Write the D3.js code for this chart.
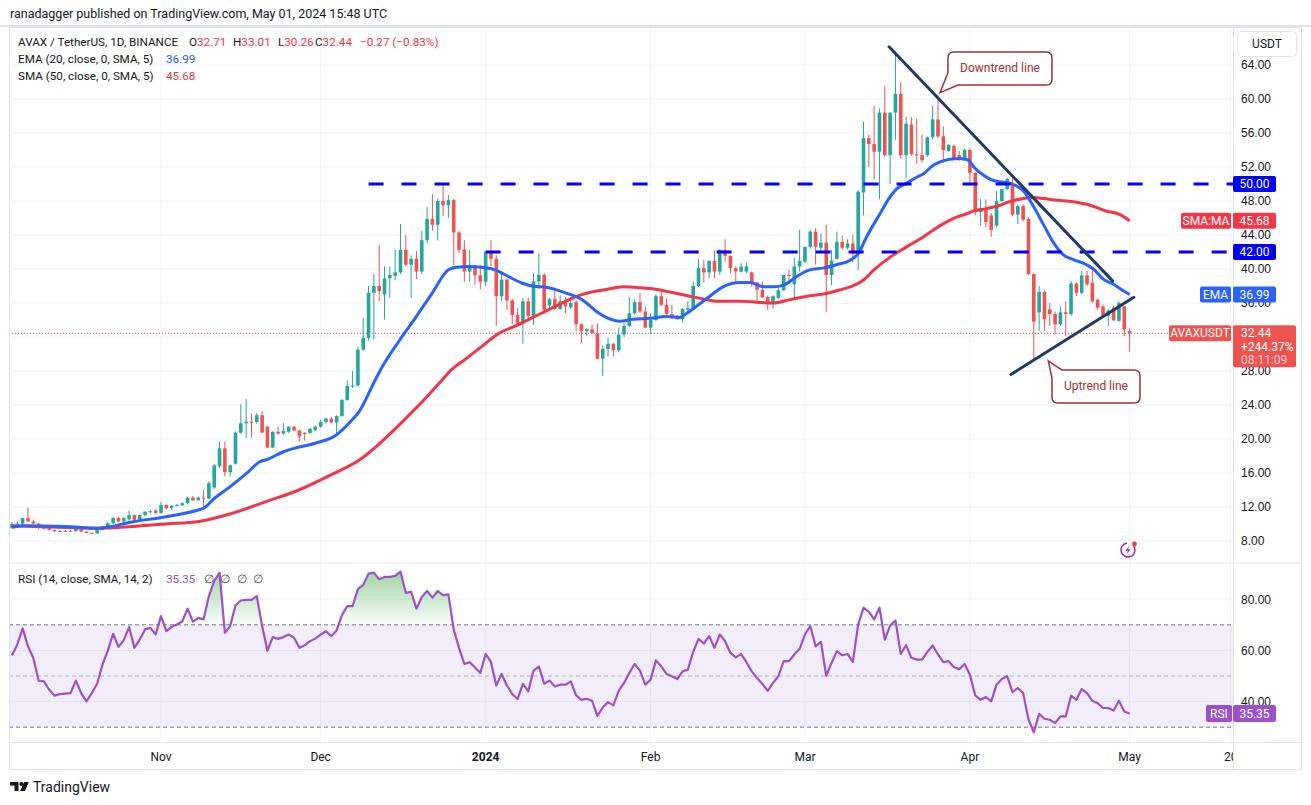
<!DOCTYPE html>
<html lang="en">
<head>
<meta charset="UTF-8">
<title>AVAX / TetherUS, 1D, BINANCE</title>
<script src="https://d3js.org/d3.v7.min.js"></script>
<style>
  html, body { margin: 0; padding: 0; background: #fff; }
  svg { display: block; font-family: Roboto, "Noto Sans", sans-serif; }
  .axis text { font-size: 12px; fill: #131722; }
  .grid { stroke: #f0f3fa; stroke-width: 1; }
  .frame { stroke: #e0e3eb; stroke-width: 1; fill: none; }
  .legend { font-size: 11.7px; fill: #131722; }
  .tag text { font-size: 12px; fill: #fff; }
</style>
</head>
<body>
<svg width="1311" height="805"></svg>
<script>
// ---- data ----
const firstDay = "2023-10-04";   // first daily candle

const opens = [
  9.55,10.0,10.05,10.7,10.3,10.05,9.55,9.5,9.3,9.15,
  9.18,9.2,9.15,9.45,9.1,8.95,8.9,9.3,9.7,10.1,
  10.7,10.3,10.55,11.05,10.5,11.05,11.45,11.6,11.3,12.25,
  11.85,12.15,12.2,12.45,13.1,12.8,13.1,13.0,14.3,16.8,
  18.9,16.1,17.1,20.75,21.85,22.05,22.0,22.8,21.45,19.0,
  20.85,20.65,20.85,21.45,21.0,20.7,20.7,21.05,21.45,22.0,
  22.4,21.95,22.7,24.6,26.25,26.3,30.5,31.9,37.2,38.0,
  37.0,38.9,39.2,39.6,42.25,40.5,41.2,39.7,43.4,45.9,
  45.2,48.0,47.5,48.1,44.3,42.3,39.7,40.2,39.25,38.5,
  42.0,41.2,36.8,38.75,36.3,34.6,33.6,36.2,34.5,38.55,
  39.3,35.7,36.45,35.3,36.0,35.5,36.1,33.5,32.7,32.9,
  32.45,29.45,30.6,31.2,30.45,32.3,33.3,34.8,36.1,35.0,
  33.1,34.0,36.8,35.8,34.7,34.4,34.1,35.2,35.4,38.0,
  40.1,39.6,40.95,39.7,42.25,41.55,40.1,39.7,39.7,39.6,
  38.4,37.55,36.7,36.0,36.6,37.5,39.3,38.2,40.3,40.85,
  42.6,44.4,42.5,43.1,39.3,41.2,43.2,42.5,43.0,41.8,
  49.0,55.4,54.7,53.8,58.4,53.4,58.4,60.6,53.4,57.0,
  53.5,53.4,53.4,55.5,57.6,55.6,53.9,54.5,53.4,52.9,
  54.0,51.3,46.7,47.1,46.3,45.1,48.0,49.4,50.0,46.4,
  47.4,45.9,39.4,34.9,37.3,35.25,34.7,33.5,34.9,34.7,
  38.3,37.2,39.25,38.4,36.4,35.6,34.5,35.45,33.9,35.6,
  32.71
];
const highs = [
  10.25,10.3,10.75,11.95,10.5,10.1,9.7,9.55,9.35,9.25,
  9.3,9.3,9.8,9.75,9.15,9.0,9.35,9.75,10.2,10.8,
  10.85,10.8,11.6,11.1,11.1,11.5,11.7,11.7,12.6,12.3,
  12.2,12.35,12.55,13.2,13.3,13.25,14.0,15.0,17.1,19.7,
  19.7,17.0,20.9,24.1,24.7,23.0,23.05,23.3,21.5,20.9,
  21.45,21.85,21.5,21.5,21.1,20.8,21.3,21.6,22.3,22.5,
  22.6,22.8,24.7,26.9,28.0,30.8,34.25,38.0,39.4,42.8,
  40.3,40.3,42.3,45.3,44.0,41.6,42.1,44.5,47.3,48.8,
  48.3,49.9,48.7,48.3,44.5,43.4,42.25,40.5,40.5,42.1,
  43.4,41.6,39.5,38.9,36.5,35.4,36.6,36.6,39.5,41.8,
  39.5,36.6,37.8,36.9,36.7,36.7,36.4,33.6,33.1,33.5,
  33.6,31.0,31.9,31.3,33.1,33.6,36.7,36.4,37.2,35.6,
  34.8,37.05,37.5,36.5,35.8,34.6,35.4,36.2,38.5,41.15,
  41.1,41.0,42.2,42.3,43.5,41.6,40.3,40.7,40.8,39.7,
  38.5,38.5,36.9,36.9,37.8,39.3,39.9,41.3,44.6,42.6,
  44.6,44.8,44.2,45.2,42.25,44.4,43.9,43.5,44.0,49.3,
  57.35,55.8,59.2,58.9,61.5,58.4,65.2,62.0,57.9,57.9,
  57.7,55.8,55.6,59.2,60.2,56.8,54.7,54.6,53.9,54.2,
  54.2,51.4,48.2,48.2,46.6,49.2,49.4,50.75,50.7,47.6,
  47.6,46.1,39.5,38.0,37.5,36.0,35.0,35.6,36.2,38.6,
  38.4,39.8,39.8,39.8,36.5,35.8,35.3,35.7,36.2,35.6,
  33.01
];
const lows = [
  9.45,9.9,10.0,10.25,9.95,9.4,9.4,9.25,9.05,9.05,
  9.1,9.1,9.1,9.05,8.9,8.8,8.85,9.25,9.6,10.0,
  10.2,10.2,10.4,10.4,10.45,10.95,11.2,11.2,11.2,11.7,
  11.7,12.05,12.15,12.3,12.7,12.75,12.0,12.9,14.1,16.6,
  15.6,15.6,17.0,20.6,20.1,20.2,21.8,20.7,18.9,18.95,
  20.5,20.5,20.7,20.9,19.7,19.8,20.6,20.95,21.3,21.8,
  21.85,20.7,22.6,24.5,26.0,26.2,30.4,31.6,31.7,36.2,
  34.05,36.6,38.7,39.4,40.3,36.6,38.8,39.4,43.0,44.5,
  43.35,46.2,46.0,40.5,41.9,38.5,38.5,38.15,37.6,38.0,
  40.3,33.3,36.2,35.2,33.5,33.5,31.2,34.1,33.4,37.65,
  34.8,35.2,35.2,35.2,34.8,35.3,32.7,31.3,32.1,32.4,
  29.4,27.4,29.7,29.7,30.2,32.0,33.2,34.6,34.8,33.05,
  32.35,33.85,35.6,34.6,34.1,34.0,33.7,35.1,35.2,37.9,
  38.4,38.9,38.9,39.3,40.9,39.5,38.4,39.6,39.5,37.9,
  36.1,36.6,35.2,35.3,36.45,37.4,38.3,36.4,39.7,40.7,
  42.4,40.5,41.85,34.9,38.1,41.1,42.3,42.3,40.8,39.9,
  46.3,52.0,50.5,48.2,53.2,50.0,55.2,53.0,50.7,53.3,
  52.4,52.5,53.2,55.3,55.4,52.5,53.8,52.8,52.7,52.8,
  50.1,46.3,45.1,44.9,43.8,44.9,47.9,49.3,46.2,45.3,
  45.6,39.3,29.4,32.7,32.7,33.3,32.3,33.3,32.1,34.5,
  36.8,37.0,38.0,36.0,35.2,34.4,33.3,33.9,33.8,32.1,
  30.26
];
const closes = [
  10.0,10.05,10.7,10.3,10.05,9.55,9.5,9.3,9.15,9.18,
  9.2,9.15,9.6,9.1,8.95,8.9,9.3,9.7,10.1,10.7,
  10.3,10.7,11.05,10.5,11.05,11.45,11.5,11.3,12.25,11.85,
  12.15,12.25,12.45,13.1,12.8,13.1,13.0,14.8,16.9,18.9,
  16.1,16.9,20.75,21.85,22.05,22.0,22.8,20.75,19.0,20.85,
  20.65,20.95,21.45,21.0,20.3,20.6,21.2,21.45,22.0,22.4,
  21.95,22.7,24.6,26.25,26.3,30.5,31.9,37.2,38.0,37.4,
  38.9,39.3,39.6,42.25,40.5,41.2,39.7,43.4,45.9,45.2,
  48.0,47.5,48.1,44.3,42.25,39.7,40.2,39.25,38.5,42.0,
  41.2,36.8,38.75,36.3,34.6,33.6,36.2,34.5,38.55,39.3,
  35.2,36.45,35.3,36.2,35.6,36.0,33.5,32.7,32.9,32.45,
  29.45,30.6,31.2,30.45,32.3,33.3,34.8,36.1,35.0,33.1,
  34.0,36.8,35.8,34.7,34.4,34.1,35.3,35.4,38.0,40.1,
  39.6,40.95,39.7,42.25,41.55,40.1,39.7,40.3,40.3,38.4,
  37.55,36.65,36.0,36.8,37.5,39.3,39.2,40.3,40.95,42.6,
  44.4,42.6,43.1,39.3,41.0,43.2,42.5,43.0,41.8,49.1,
  55.4,54.7,53.8,58.4,53.4,58.4,60.6,53.4,57.1,53.5,
  53.4,52.8,55.5,57.6,55.6,54.0,54.6,52.9,52.9,54.0,
  51.3,46.7,47.1,45.5,44.6,48.0,49.4,50.6,46.4,47.4,
  45.8,39.4,33.8,37.3,34.1,34.7,33.5,34.9,34.7,38.3,
  37.2,39.25,38.2,36.2,35.45,34.5,35.1,33.95,36.0,32.9,
  32.44
];

// EMA 20 and SMA 50 read at day offsets from firstDay
const emaDay = [0,2,10,16,23,29,35,36,38,41,44.5,46.5,48,51,53,57,61,63.3,65.2,68.3,69.5,72.7,75.8,79,82,83.5,86,88.3,90.8,93.3,95.8,97.7,100.8,104,107.1,110.3,112.4,114.2,116.7,119.9,123,125.5,126.8,128.6,131.1,133.6,136.8,138.7,141.2,143.1,145,147.4,149.9,152.4,154.9,157.4,159,160.6,163.1,165,166.2,168.1,170,171.3,173.1,174.4,176.2,178.1,179.7,180.6,182.5,184,186.3,188.1,190,191.9,193.8,195.7,197.5,199.4,201.3,203.2,205.1,207,208.9,210];
const emaVal = [9.6,9.8,9.7,9.5,10.3,10.86,11.65,11.85,13.0,14.4,16.2,17.3,17.6,18.5,18.9,19.5,20.5,21.85,23.2,27.0,28.4,31.5,34.25,37.2,39.9,40.2,40.3,40.2,39.9,39.1,38.35,38.0,37.8,37.2,36.4,34.8,34.1,33.85,34.1,34.2,34.4,34.3,34.8,35.6,36.8,37.9,38.4,38.4,37.9,37.9,38.1,39.1,39.9,40.1,40.5,41.0,41.8,43.8,46.5,48.5,49.4,50.1,50.8,51.2,52.2,52.6,52.9,53.0,52.8,52.1,51.05,50.5,50.2,49.96,49.2,47.4,45.25,43.1,41.7,41.1,40.7,40.0,38.8,38.2,37.4,36.99];
const smaDay = [0,10,16.4,22.6,28.9,35.1,41.4,47.6,53.9,60,65.2,73,80.9,82,85.2,88.3,91.4,94.6,97.7,100.8,104,107.1,111.7,114.9,118,121.2,124.3,127.4,130.5,132.4,136.8,139.9,143.1,146.2,149.4,152.5,155.6,157.5,160,161.8,165,168.1,171.3,174.4,177.5,179.4,180.6,183.1,185.7,186.9,190,191.9,193.8,196.3,199.4,202.6,205.7,208.2,210];
const smaVal = [9.8,9.6,9.5,9.7,10.0,10.3,11.26,12.6,14.0,15.8,17.5,21.8,27.0,27.8,29.4,30.9,32.4,33.3,34.25,35.2,36.2,37.0,37.6,37.9,37.8,37.6,37.2,36.8,36.4,36.2,36.2,36.1,36.0,36.4,36.8,37.05,37.55,37.9,38.7,39.8,41.4,42.6,43.8,45.1,46.1,46.5,46.8,47.1,47.5,47.8,48.3,48.4,48.3,48.1,47.9,47.5,46.8,46.4,45.68];

// RSI 14, one value per candle
const rsi = [
  58,62.3,68.6,61.6,57.1,48.2,47.9,44.6,42.3,42.9,
  43.1,43.3,48.2,43.3,40.1,43.3,47.0,54.4,59.9,66.5,
  61.4,63.9,69.1,61.0,64.2,68.2,68.8,66.2,73.4,67.5,
  69.2,70.1,71.4,76.3,71.2,72.7,72.1,81.2,87.1,90.4,
  66.9,69.5,77.6,79.5,79.7,79.7,81.2,69.5,59.9,65.2,
  64.5,65.2,66.2,64.9,61.0,62.0,63.6,64.6,66.2,67.5,
  65.6,67.8,73.8,77.3,77.3,83.9,85.6,90.0,90.4,87.8,
  88.7,88.7,89.1,90.8,82.5,82.9,76.3,80.8,83.2,80.6,
  83.2,81.6,81.9,68.2,61.0,54.7,55.4,53.3,51.2,58.6,
  55.5,46.3,50.8,46.3,42.9,41.0,46.9,44.0,52.1,53.7,
  47.0,48.2,45.9,46.6,46.6,47.9,42.4,40.7,41.1,40.3,
  34.4,37.7,39.8,38.5,44.2,47.3,51.2,54.7,52.1,46.6,
  48.6,56.1,53.8,50.8,49.9,48.8,51.8,52.5,59.4,64.5,
  62.7,65.6,61.0,66.2,63.6,59.0,57.3,58.6,55.4,51.8,
  49.2,46.9,44.2,47.3,49.9,55.8,55.8,58.4,60.6,66.2,
  69.5,61.6,63.3,50.1,55.1,59.7,58.1,58.6,55.5,70.1,
  76.7,75.1,72.1,76.7,64.2,69.7,71.7,58.6,62.0,57.1,
  56.4,56.4,59.4,61.9,58.4,55.4,55.8,53.4,52.7,54.7,
  50.5,42.4,40.7,41.8,40.1,46.6,48.8,49.9,43.7,45.3,
  43.3,33.1,28.0,35.2,33.3,32.9,31.6,34.2,34.2,42.3,
  40.7,44.9,43.3,40.3,39.4,37.5,37.5,36.5,40.3,36.1,
  35.35
];

// horizontal levels and trend lines drawn on the chart
const levelPrice = [50, 42];
const levelFrom = ["2023-12-10", "2024-01-01"];
const downtrend = [[164.8, 66.15], [206.8, 38.6]];   // [day offset, price]
const uptrend = [[187.7, 27.6], [210.8, 36.67]];

// axis ticks (32.00 sits under the last-price tag)
const priceTicks = [8, 12, 16, 20, 24, 28, 32, 36, 40, 44, 48, 52, 56, 60, 64, 68];
const priceLabels = [8, 12, 16, 20, 24, 28, 36, 40, 44, 48, 52, 56, 60, 64];
const rsiTicks = [40, 60, 80];
const timeTicks = ["2023-11-01", "2023-12-01", "2024-01-01", "2024-02-01", "2024-03-01", "2024-04-01", "2024-05-01", "2024-05-20"];
const timeLabels = ["Nov", "Dec", "2024", "Feb", "Mar", "Apr", "May", "20"];

// ---- layout ----
const L = 9, R = 1233, TOP = 27, SPLIT = 563, BOTTOM = 742, FR = 1301, FB = 769;
const UP = "#26a69a", DOWN = "#ef5350", EMA_C = "#2962ff", SMA_C = "#f23645",
      LEVEL_C = "#0000ff", TREND_C = "#1f3a68", RSI_C = "#9b51c9", CALLOUT_C = "#a3302f";

const DAY = 864e5;
const t0 = Date.parse(firstDay + "T00:00:00Z");
const x = d3.scaleUtc()
  .domain([new Date(t0 - 0.56 * DAY), new Date(t0 + 229.43 * DAY)])
  .range([L, R]);
const xi = i => x(new Date(t0 + i * DAY));
const xd = s => x(new Date(s + "T00:00:00Z"));

const y = d3.scaleLinear().domain([8, 64]).range([541, 65]);
const yR = d3.scaleLinear().domain([30, 80]).range([727.2, 599.2]);

const svg = d3.select("svg");
const defs = svg.append("defs");
defs.append("clipPath").attr("id", "clipPrice")
  .append("rect").attr("x", L).attr("y", TOP).attr("width", R - L).attr("height", SPLIT - TOP);
defs.append("clipPath").attr("id", "clipRsi")
  .append("rect").attr("x", L).attr("y", SPLIT).attr("width", R - L).attr("height", BOTTOM - SPLIT);
defs.append("clipPath").attr("id", "clipTime")
  .append("rect").attr("x", L).attr("y", BOTTOM).attr("width", R - L).attr("height", FB - BOTTOM);
const grad = defs.append("linearGradient").attr("id", "obFill")
  .attr("gradientUnits", "userSpaceOnUse")
  .attr("x1", 0).attr("x2", 0).attr("y1", yR(92)).attr("y2", yR(70));
grad.append("stop").attr("offset", 0).attr("stop-color", "#4caf50").attr("stop-opacity", 0.55);
grad.append("stop").attr("offset", 1).attr("stop-color", "#4caf50").attr("stop-opacity", 0.03);

svg.append("rect").attr("width", 1311).attr("height", 805).attr("fill", "#fff");

// ---- grid ----
const gGrid = svg.append("g");
gGrid.selectAll(".hp").data(priceTicks).join("line").attr("class", "grid")
  .attr("x1", L).attr("x2", R).attr("y1", d => y(d)).attr("y2", d => y(d));
gGrid.selectAll(".hr").data(rsiTicks).join("line").attr("class", "grid")
  .attr("x1", L).attr("x2", R).attr("y1", d => yR(d)).attr("y2", d => yR(d));
gGrid.selectAll(".v").data(timeTicks).join("line").attr("class", "grid")
  .attr("x1", d => xd(d)).attr("x2", d => xd(d)).attr("y1", TOP).attr("y2", BOTTOM);

// ---- RSI pane ----
const gR = svg.append("g").attr("clip-path", "url(#clipRsi)");
gR.append("rect").attr("x", L).attr("width", R - L)
  .attr("y", yR(70)).attr("height", yR(30) - yR(70))
  .attr("fill", "rgba(126,87,194,0.1)");
[[70, "#787b86"], [50, "#b2b5be"], [30, "#787b86"]].forEach(([v, c]) => {
  gR.append("line").attr("x1", L).attr("x2", R).attr("y1", yR(v)).attr("y2", yR(v))
    .attr("stroke", c).attr("stroke-width", 1).attr("stroke-dasharray", "4,3");
});
gR.append("path").datum(rsi)
  .attr("fill", "url(#obFill)")
  .attr("d", d3.area().x((d, i) => xi(i)).y0(yR(70)).y1(d => yR(Math.max(d, 70))));
gR.append("path").datum(rsi)
  .attr("fill", "none").attr("stroke", RSI_C).attr("stroke-width", 2.2)
  .attr("stroke-linejoin", "round")
  .attr("d", d3.line().x((d, i) => xi(i)).y(d => yR(d)));

// ---- price pane ----
const gP = svg.append("g").attr("clip-path", "url(#clipPrice)");
const lastClose = closes[closes.length - 1];

// last price dotted line
gP.append("line").attr("x1", L).attr("x2", 1169)
  .attr("y1", y(lastClose)).attr("y2", y(lastClose))
  .attr("stroke", SMA_C).attr("stroke-width", 1).attr("stroke-dasharray", "1,2");

// candles
const candles = closes.map((c, i) => ({ i, o: opens[i], h: highs[i], l: lows[i], c }));
const bw = 3.6;
gP.selectAll(".wick").data(candles).join("line")
  .attr("x1", d => xi(d.i)).attr("x2", d => xi(d.i))
  .attr("y1", d => y(d.h)).attr("y2", d => y(d.l))
  .attr("stroke", d => d.c >= d.o ? UP : DOWN).attr("stroke-width", 1);
gP.selectAll(".body").data(candles).join("rect")
  .attr("x", d => xi(d.i) - bw / 2).attr("width", bw)
  .attr("y", d => y(Math.max(d.o, d.c)))
  .attr("height", d => Math.max(1, Math.abs(y(d.o) - y(d.c))))
  .attr("fill", d => d.c >= d.o ? UP : DOWN);

// moving averages
const maLine = d3.line().curve(d3.curveMonotoneX);
gP.append("path")
  .attr("d", maLine(smaDay.map((d, k) => [xi(d), y(smaVal[k])])))
  .attr("fill", "none").attr("stroke", SMA_C).attr("stroke-width", 3);
gP.append("path")
  .attr("d", maLine(emaDay.map((d, k) => [xi(d), y(emaVal[k])])))
  .attr("fill", "none").attr("stroke", EMA_C).attr("stroke-width", 3);

// horizontal levels
levelPrice.forEach((p, k) => {
  gP.append("line").attr("x1", xd(levelFrom[k])).attr("x2", R)
    .attr("y1", y(p)).attr("y2", y(p))
    .attr("stroke", LEVEL_C).attr("stroke-width", 3).attr("stroke-dasharray", "15,18");
});

// trend lines
[downtrend, uptrend].forEach(t => {
  gP.append("line")
    .attr("x1", xi(t[0][0])).attr("y1", y(t[0][1]))
    .attr("x2", xi(t[1][0])).attr("y2", y(t[1][1]))
    .attr("stroke", TREND_C).attr("stroke-width", 3).attr("stroke-linecap", "round");
});

// callouts (tip anchored at day offset / price)
function callout(tipDay, tipPrice, pathFn, label, tx, ty) {
  const px = xi(tipDay), py = y(tipPrice);
  gP.append("path").attr("d", pathFn(px, py))
    .attr("fill", "#fff").attr("stroke", CALLOUT_C).attr("stroke-width", 1.5);
  gP.append("text").attr("x", px + tx).attr("y", py + ty)
    .attr("text-anchor", "middle").attr("dominant-baseline", "central")
    .attr("font-size", 12).attr("fill", CALLOUT_C).text(label);
}
callout(174.37, 60.74, (px, py) => {
  const x0 = px + 8, x1 = px + 112, y0 = py - 40.7, y1 = py - 7.7, r = 6;
  return `M${x0},${py - 20} L${x0},${y0 + r} Q${x0},${y0} ${x0 + r},${y0} L${x1 - r},${y0} Q${x1},${y0} ${x1},${y0 + r}` +
         ` L${x1},${y1 - r} Q${x1},${y1} ${x1 - r},${y1} L${px + 18},${y1} L${px},${py} Z`;
}, "Downtrend line", 60, -24.5);
callout(194.72, 29.18, (px, py) => {
  const x0 = px + 3.7, x1 = px + 91.7, y0 = py + 9, y1 = py + 42, r = 6;
  return `M${px + 13.5},${y0} L${x1 - r},${y0} Q${x1},${y0} ${x1},${y0 + r} L${x1},${y1 - r} Q${x1},${y1} ${x1 - r},${y1}` +
         ` L${x0 + r},${y1} Q${x0},${y1} ${x0},${y1 - r} L${x0},${py + 17} L${px},${py} Z`;
}, "Uptrend line", 47.7, 25);

// ---- frame ----
const gF = svg.append("g");
gF.append("rect").attr("class", "frame").attr("x", L + 0.5).attr("y", TOP + 0.5)
  .attr("width", FR - L).attr("height", FB - TOP);
gF.append("line").attr("class", "frame").attr("stroke-width", 2)
  .attr("x1", L).attr("x2", FR).attr("y1", SPLIT).attr("y2", SPLIT);
gF.append("line").attr("class", "frame")
  .attr("x1", L).attr("x2", FR).attr("y1", BOTTOM + 0.5).attr("y2", BOTTOM + 0.5);
gF.append("line").attr("class", "frame")
  .attr("x1", R + 0.5).attr("x2", R + 0.5).attr("y1", TOP).attr("y2", FB);
svg.append("rect").attr("x", 0).attr("y", 25).attr("width", 1311).attr("height", 2).attr("fill", "#e0e3eb");

// ---- axes ----
const gPA = svg.append("g").attr("class", "axis").attr("transform", `translate(${R},0)`)
  .call(d3.axisRight(y).tickValues(priceLabels).tickSize(0).tickPadding(8).tickFormat(d3.format(".2f")));
gPA.select(".domain").remove();
const gRA = svg.append("g").attr("class", "axis").attr("transform", `translate(${R},0)`)
  .call(d3.axisRight(yR).tickValues(rsiTicks).tickSize(0).tickPadding(8).tickFormat(d3.format(".2f")));
gRA.select(".domain").remove();

svg.append("g").attr("clip-path", "url(#clipTime)")
  .selectAll("text").data(timeTicks).join("text")
  .attr("x", d => xd(d)).attr("y", 761)
  .attr("text-anchor", "middle").attr("font-size", 12).attr("fill", "#131722")
  .attr("font-weight", (d, k) => timeLabels[k] === "2024" ? "bold" : null)
  .text((d, k) => timeLabels[k]);

// USDT box
svg.append("rect").attr("x", 1237.5).attr("y", 31.5).attr("width", 59).attr("height", 25).attr("rx", 4)
  .attr("fill", "#fff").attr("stroke", "#e0e3eb");
svg.append("text").attr("x", 1267).attr("y", 44).attr("text-anchor", "middle")
  .attr("dominant-baseline", "central").attr("font-size", 12).attr("fill", "#131722").text("USDT");

// price tags
function tag(x0, w, yc, h, fill, label) {
  const g = svg.append("g").attr("class", "tag");
  g.append("rect").attr("x", x0).attr("y", yc - h / 2).attr("width", w).attr("height", h)
    .attr("rx", 2).attr("fill", fill);
  g.append("text").attr("x", x0 + w / 2).attr("y", yc).attr("text-anchor", "middle")
    .attr("dominant-baseline", "central").text(label);
}
const f2 = d3.format(".2f");
levelPrice.forEach(p => tag(R, 43, y(p), 16, LEVEL_C, f2(p)));
const smaLast = smaVal[smaVal.length - 1], emaLast = emaVal[emaVal.length - 1];
tag(1181, 50, y(smaLast), 16, SMA_C, "SMA:MA");
tag(R, 43, y(smaLast), 16, SMA_C, f2(smaLast));
tag(1200, 31, y(emaLast), 16, EMA_C, "EMA");
tag(R, 43, y(emaLast), 16, EMA_C, f2(emaLast));
tag(1169, 62, y(lastClose), 16, DOWN, "AVAXUSDT");
{
  const yc = y(lastClose);
  svg.append("rect").attr("x", R).attr("y", yc - 8).attr("width", 63).attr("height", 42)
    .attr("rx", 2).attr("fill", DOWN);
  const t = svg.append("g").attr("font-size", 12).attr("fill", "#fff");
  t.append("text").attr("x", 1241).attr("y", yc).attr("dominant-baseline", "central").text(f2(lastClose));
  t.append("text").attr("x", 1241).attr("y", yc + 14).attr("dominant-baseline", "central").text("+244.37%");
  t.append("text").attr("x", 1241).attr("y", yc + 27).attr("dominant-baseline", "central")
    .attr("fill-opacity", 0.75).text("08:11:09");
}
const rsiLast = rsi[rsi.length - 1];
tag(1206, 26, yR(rsiLast), 17, RSI_C, "RSI");
tag(R, 43, yR(rsiLast), 17, RSI_C, f2(rsiLast));

// ---- legends ----
svg.append("text").attr("x", 10).attr("y", 18).attr("font-size", 12.5).attr("fill", "#131722")
  .text("ranadagger published on TradingView.com, May 01, 2024 15:48 UTC");

const lg = svg.append("g").attr("class", "legend");
const row1 = 46;
lg.append("text").attr("x", 18).attr("y", row1).text("AVAX / TetherUS, 1D, BINANCE");
[["O", "32.71", 189], ["H", "33.01", 233], ["L", "30.26", 278], ["C", "32.44", 315]].forEach(([k, v, px]) => {
  const t = lg.append("text").attr("x", px).attr("y", row1);
  t.append("tspan").text(k);
  t.append("tspan").attr("fill", SMA_C).text(v);
});
lg.append("text").attr("x", 360).attr("y", row1).attr("fill", SMA_C).text("\u22120.27 (\u22120.83%)");
lg.append("text").attr("x", 18).attr("y", 63).text("EMA (20, close, 0, SMA, 5)");
lg.append("text").attr("x", 166).attr("y", 63).attr("fill", EMA_C).text(f2(emaLast));
lg.append("text").attr("x", 18).attr("y", 80).text("SMA (50, close, 0, SMA, 5)");
lg.append("text").attr("x", 166).attr("y", 80).attr("fill", SMA_C).text(f2(smaLast));

lg.append("text").attr("x", 18).attr("y", 583).text("RSI (14, close, SMA, 14, 2)");
lg.append("text").attr("x", 166).attr("y", 583).attr("fill", RSI_C).text(f2(rsiLast));
[204, 220, 237, 253].forEach(px => {
  lg.append("text").attr("x", px).attr("y", 583).attr("fill", "#50535e").text("\u2205");
});

// alert icon near bottom right of price pane
{
  const cx = R - 105, cy = SPLIT - 13;
  const ic = svg.append("g").attr("transform", `translate(${cx},${cy})`);
  ic.append("path").attr("d", d3.arc()({ innerRadius: 6.3, outerRadius: 7.8, startAngle: 0.9, endAngle: 2 * Math.PI - 0.15 }))
    .attr("fill", "#9c27b0");
  ic.append("path").attr("d", "M1.5,-4.5 L-2.5,0.8 L0,0.8 L-1.5,4.5 L2.5,-0.8 L0,-0.8 Z").attr("fill", "#9c27b0");
  ic.append("circle").attr("cx", 6.5).attr("cy", -6).attr("r", 2.4).attr("fill", "#f23645");
}

// footer logo
{
  const fl = svg.append("g").attr("fill", "#131722");
  fl.append("path").attr("d", "M10,782 H18.5 V791 H14.5 V785.5 H10 Z");
  fl.append("circle").attr("cx", 21.3).attr("cy", 784).attr("r", 1.9);
  fl.append("path").attr("d", "M24,782 H28.8 L25,791 H20.2 Z");
  fl.append("text").attr("x", 33).attr("y", 792).attr("font-size", 14).text("TradingView");
}
</script>
</body>
</html>
